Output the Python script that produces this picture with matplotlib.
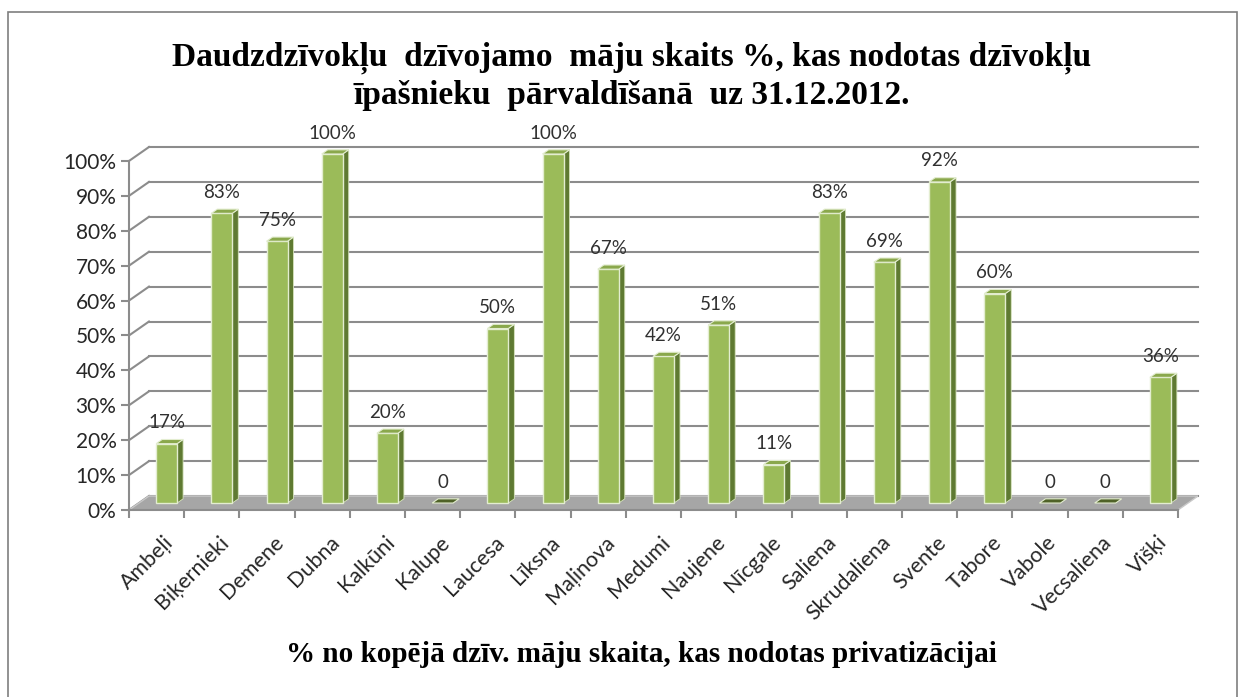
import matplotlib.pyplot as plt
import numpy as np
from matplotlib.patches import Polygon, Rectangle

# data
places = ['Ambeļi', 'Biķernieki', 'Demene', 'Dubna', 'Kalkūni', 'Kalupe', 'Laucesa',
          'Līksna', 'Maļinova', 'Medumi', 'Naujene', 'Nīcgale', 'Saliena', 'Skrudaliena',
          'Svente', 'Tabore', 'Vabole', 'Vecsaliena', 'Višķi']
values = [17, 83, 75, 100, 20, 0, 50, 100, 67, 42, 51, 11, 83, 69, 92, 60, 0, 0, 36]
yticks = [0, 10, 20, 30, 40, 50, 60, 70, 80, 90, 100]

title = 'Daudzdzīvokļu  dzīvojamo  māju skaits %, kas nodotas dzīvokļu\nīpašnieku  pārvaldīšanā  uz 31.12.2012.'
xtitle = '% no kopējā dzīv. māju skaita, kas nodotas privatizācijai'

W, H = 1245, 697
fig = plt.figure(figsize=(W / 100, H / 100), dpi=100)

# pseudo 3d depth in data units
ddx, ddy = 0.362, 4.0
n = len(places)
ax = fig.add_axes([129 / W, (H - 510) / H, 1069 / W, 363 / H])
ax.set_xlim(-0.5, n - 0.5 + ddx)
ax.set_ylim(0, 100 + ddy)
grid_c = '#8c8c8c'

# left wall diagonals + back wall gridlines
for v in yticks:
    ax.plot([-0.5, -0.5 + ddx], [v, v + ddy], color=grid_c, lw=1.5, clip_on=False, zorder=1)
    ax.plot([-0.5 + ddx, n - 0.5 + ddx], [v + ddy, v + ddy], color=grid_c, lw=1.5,
            clip_on=False, zorder=1)

# floor
floor = Polygon([(-0.5, 0), (n - 0.5, 0), (n - 0.5 + ddx, ddy), (-0.5 + ddx, ddy)],
                closed=True, facecolor='#a6a6a6', edgecolor='#c8c8c8', lw=1, zorder=2)
ax.add_patch(floor)

# bars
f0, f1 = 0.5, 0.8
bw = 0.38
for i, v in enumerate(values):
    x0 = i - bw / 2 + f0 * ddx
    y0 = f0 * ddy
    sx, sy = (f1 - f0) * ddx, (f1 - f0) * ddy
    if v > 0:
        side = Polygon([(x0 + bw, y0), (x0 + bw + sx, y0 + sy), (x0 + bw + sx, y0 + sy + v),
                        (x0 + bw, y0 + v)], closed=True, facecolor='#5f7a32',
                       edgecolor='#d7e4bd', lw=0.6, zorder=3)
        ax.add_patch(side)
        front = Rectangle((x0, y0), bw, v, facecolor='#9bbb59', edgecolor='#e3edd0',
                          lw=1.0, zorder=4)
        ax.add_patch(front)
        top_c = '#8aa84c'
    else:
        top_c = '#4f6228'
    top = Polygon([(x0, y0 + v), (x0 + bw, y0 + v), (x0 + bw + sx, y0 + v + sy),
                   (x0 + sx, y0 + v + sy)], closed=True, facecolor=top_c,
                  edgecolor='#e3edd0', lw=0.8, zorder=5)
    ax.add_patch(top)
    lab = '0' if v == 0 else f'{v}%'
    ax.text(i + f0 * ddx, v + f1 * ddy + 4.8, lab, ha='center', va='center',
            fontsize=13.5, family='Lato', color='#303030', zorder=6)

# axes
for s in ['top', 'right']:
    ax.spines[s].set_visible(False)
ax.spines['left'].set_bounds(0, 100)
ax.spines['bottom'].set_bounds(-0.5, n - 0.5)
for s in ['left', 'bottom']:
    ax.spines[s].set_color(grid_c)
    ax.spines[s].set_linewidth(1.5)
ax.set_yticks(yticks, [f'{v}%' for v in yticks])
ax.tick_params(axis='y', length=6, width=1.5, color=grid_c, labelsize=15, pad=3,
               labelcolor='#262626')
for t in ax.get_yticklabels():
    t.set_family('Lato')
ax.set_xticks(np.arange(n) + 0.12, places)
ax.set_xticks(np.arange(n + 1) - 0.5, minor=True)
ax.tick_params(axis='x', which='major', length=0, pad=16, labelsize=15.5, labelcolor='#262626')
ax.tick_params(axis='x', which='minor', length=6, width=1.5, color=grid_c)
for t in ax.get_xticklabels():
    t.set_rotation(45)
    t.set_ha('right')
    t.set_rotation_mode('anchor')
    t.set_family('Lato')
ax.patch.set_visible(False)

fig.text(632 / W, 1 - 76 / H, title, ha='center', va='center', fontsize=24,
         family='Liberation Serif', weight='bold', linespacing=1.25)
fig.text(641 / W, 1 - 655 / H, xtitle, ha='center', va='center', fontsize=21,
         family='Liberation Serif', weight='bold')

# chart border
fig.add_artist(Rectangle((8 / W, -0.05), (1237 - 8) / W, 1.05 - 12 / H, transform=fig.transFigure,
                         fill=False, edgecolor='#7f7f7f', lw=1.2))

fig.savefig('out.png', dpi=100)
